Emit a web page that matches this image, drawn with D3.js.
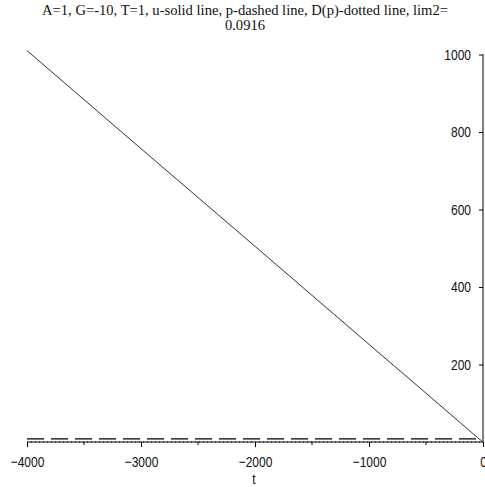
<!DOCTYPE html>
<html><head><meta charset="utf-8">
<script src="https://cdn.jsdelivr.net/npm/d3@7"></script>
<style>
body{margin:0;background:#fff;}
svg{display:block;}
.tick text{font-family:"Liberation Sans",Arial,sans-serif;font-size:15px;fill:#111;}
</style></head>
<body><svg id="chart" width="485" height="487"></svg>
<script>
const titleLines = ["A=1, G=-10, T=1, u-solid line, p-dashed line, D(p)-dotted line, lim2=", "0.0916"];
const xLabel = "t";
const tValues = [-4000, -3000, -2000, -1000, -500, -200, -50, 0];
const uValues = [1010, 757, 505, 252, 126, 50, 12, 0];
const pValues = [8, 8, 8, 8, 8, 8, 8, 8];
const dpValues = [0, 0, 0, 0, 0, 0, 0, 0];
const xTicks = [-4000, -3000, -2000, -1000, 0];
const xMinorTicks = [-3500, -2500, -1500, -500];
const yTicks = [200, 400, 600, 800, 1000];

const svg = d3.select("#chart");
const x = d3.scaleLinear().domain([-4000, 0]).range([27, 483]);
const y = d3.scaleLinear().domain([0, 1000]).range([442, 54.5]);
const sx = 0.8;

// title
svg.append("g").selectAll("text").data(titleLines).join("text")
  .attr("x", 245).attr("y", (d, i) => 15 + i * 15)
  .attr("text-anchor", "middle")
  .attr("font-family", "Liberation Serif, Times New Roman, serif")
  .attr("font-size", 14.6).attr("fill", "#111").text(d => d);

// x axis
const xAxis = svg.append("g").attr("transform", `translate(0,${y(0)})`)
  .call(d3.axisBottom(x).tickValues(xTicks).tickSize(5).tickPadding(9)
    .tickFormat(d => d === 0 ? "0" : "\u2212" + Math.abs(d)));
xAxis.select(".domain").attr("d", `M${x(-4000)},0H${x(0)}`).attr("stroke", "#000");
xAxis.selectAll(".tick line").attr("stroke", "#000");
xAxis.selectAll(".tick text").attr("transform", `scale(${sx},1)`);
svg.append("g").attr("transform", `translate(0,${y(0)})`)
  .selectAll("line").data(xMinorTicks).join("line")
  .attr("x1", d => x(d)).attr("x2", d => x(d)).attr("y1", 0).attr("y2", 3)
  .attr("stroke", "#000");

svg.append("text").attr("transform", `translate(254,484) scale(${sx},1)`)
  .attr("text-anchor", "middle")
  .attr("font-family", "Liberation Sans, Arial, sans-serif")
  .attr("font-size", 15).attr("fill", "#111").text(xLabel);

// y axis
const yAxis = svg.append("g").attr("transform", `translate(${x(0)},0)`)
  .call(d3.axisLeft(y).tickValues(yTicks).tickSize(4).tickPadding(8).tickFormat(d3.format("d")));
yAxis.select(".domain").attr("d", `M0,${y(1000)}V${y(0)}`).attr("stroke", "#000");
yAxis.selectAll(".tick line").attr("stroke", "#000");
yAxis.selectAll(".tick text").attr("x", -12 / sx).attr("transform", `scale(${sx},1)`);

// series
const pts = (vals) => tValues.map((t, i) => [t, vals[i]]);
const line = d3.line().x(d => x(d[0])).y(d => y(d[1]));
svg.append("path").datum(pts(dpValues)).attr("d", line)
  .attr("fill", "none").attr("stroke", "#000").attr("stroke-dasharray", "1,3");
svg.append("path").datum(pts(pValues)).attr("d", line)
  .attr("fill", "none").attr("stroke", "#000").attr("stroke-width", 1.3).attr("stroke-dasharray", "17,7");
svg.append("path").datum(pts(uValues)).attr("d", line)
  .attr("fill", "none").attr("stroke", "#333").attr("stroke-width", 1);
</script></body></html>
